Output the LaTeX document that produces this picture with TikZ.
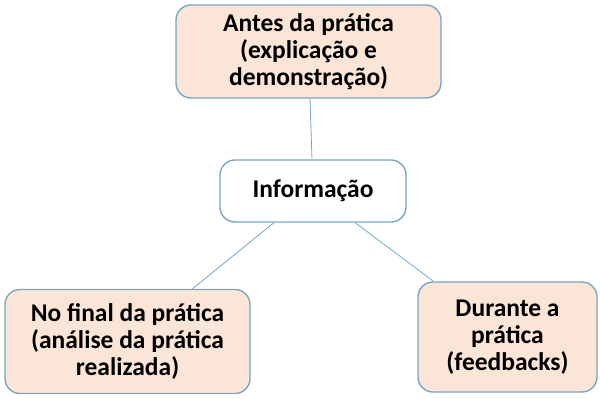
\documentclass[tikz,border=0pt]{standalone}
\usepackage{fontspec}
\setmainfont{Carlito}
\usepackage{tikz}
\definecolor{myborder}{RGB}{120,166,196}
\definecolor{mypeach}{RGB}{251,229,214}

\begin{document}
\begin{tikzpicture}[x=1pt,y=-1pt,
    box/.style={draw=myborder, line width=1.4pt, rounded corners=15pt, align=center,
      font=\fontsize{25.5}{27}\selectfont\bfseries, inner sep=0pt},
    peach/.style={box, fill=mypeach},
    link/.style={draw=myborder, line width=0.8pt}]
    % Fix the page size
    \useasboundingbox (0,0) rectangle (600,399);

    % The boxes
    \node[peach, minimum width=265pt, minimum height=93pt] (antes) at (308.5,51.5)
      {Antes da prática\\(explicação e\\demonstração)};
    \node[box, fill=white, minimum width=186pt, minimum height=62pt] (info) at (313,191)
      {Informação};
    \node[peach, minimum width=245pt, minimum height=104pt] (final) at (127.5,341.5)
      {No final da prática\\(análise da prática\\realizada)};
    \node[peach, minimum width=179pt, minimum height=110pt] (durante) at (507.5,337)
      {Durante a\\prática\\(feedbacks)};

    % Connect them
    \draw[link] (antes) -- (info);
    \draw[link] (info) -- (final);
    \draw[link] (info) -- (durante);
\end{tikzpicture}
\end{document}
